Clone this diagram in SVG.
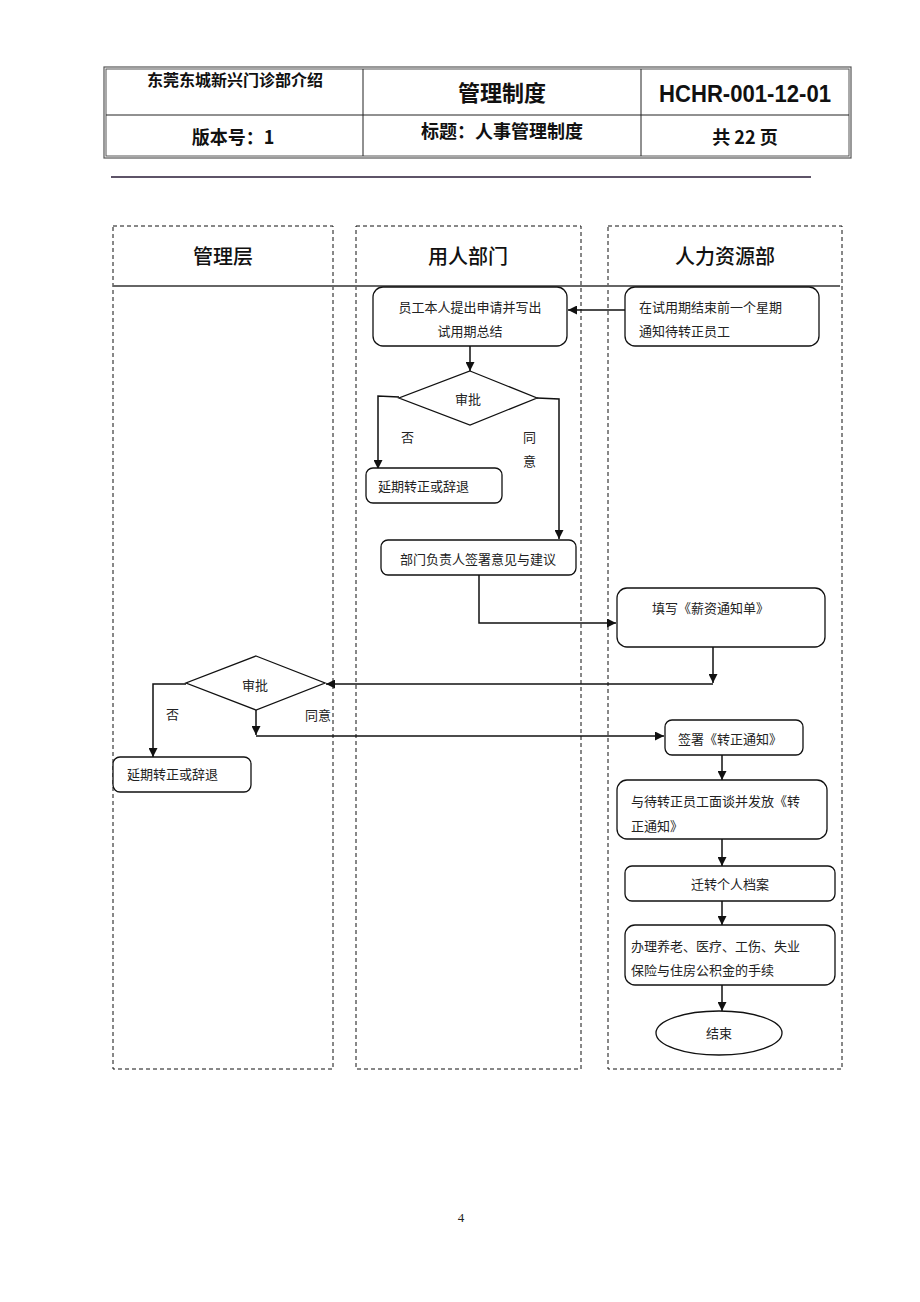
<svg xmlns="http://www.w3.org/2000/svg" width="920" height="1302" viewBox="0 0 920 1302">
<style>
.hd{font-family:"Noto Sans CJK SC","Liberation Sans",sans-serif;font-weight:bold;fill:#111}
.ln{font-family:"Noto Sans CJK SC","Liberation Sans",sans-serif;font-size:20px;font-weight:500;fill:#111;text-anchor:middle}
.t{font-family:"Noto Sans CJK SC","Liberation Serif",serif;font-size:13px;fill:#222}
.c{text-anchor:middle}
.box{fill:#fff;stroke:#111;stroke-width:1.3}
.lane{fill:none;stroke:#111;stroke-width:1;stroke-dasharray:4,3}
.con{fill:none;stroke:#111;stroke-width:1.5}
</style>
<defs>
<marker id="ah" viewBox="0 0 10 10" refX="10" refY="5" markerWidth="9" markerHeight="9" markerUnits="userSpaceOnUse" orient="auto">
<path d="M0,0 L10,5 L0,10 z" fill="#111"/>
</marker>
</defs>
<rect width="920" height="1302" fill="#fff"/>
<g id="header">
<rect x="104" y="67" width="747" height="91" fill="none" stroke="#555" stroke-width="1.2"/>
<rect x="106" y="69" width="743" height="87" fill="none" stroke="#555" stroke-width="1"/>
<line x1="106" y1="115" x2="849" y2="115" stroke="#222" stroke-width="1"/>
<line x1="363" y1="69" x2="363" y2="156" stroke="#222" stroke-width="1"/>
<line x1="641" y1="69" x2="641" y2="156" stroke="#222" stroke-width="1"/>
<text class="hd" x="235" y="86" font-size="16" text-anchor="middle">东莞东城新兴门诊部介绍</text>
<text class="hd" x="502" y="101" font-size="22" text-anchor="middle">管理制度</text>
<text x="745" y="102" font-family="Liberation Sans,sans-serif" font-weight="bold" font-size="24" text-anchor="middle" textLength="172" lengthAdjust="spacingAndGlyphs" fill="#111">HCHR-001-12-01</text>
<text class="hd" x="233" y="144" font-size="18" text-anchor="middle">版本号：1</text>
<text class="hd" x="502" y="138" font-size="18" text-anchor="middle">标题：人事管理制度</text>
<text class="hd" x="745" y="144" font-size="18" text-anchor="middle" xml:space="preserve">共 22 页</text>
<line x1="111" y1="177" x2="811" y2="177" stroke="#5e5468" stroke-width="2"/>
</g>
<g id="lanes">
<rect class="lane" x="113" y="226" width="220" height="843"/>
<rect class="lane" x="356" y="226" width="225" height="843"/>
<rect class="lane" x="608" y="226" width="234" height="843"/>
<line x1="113" y1="286" x2="840" y2="286" stroke="#666" stroke-width="1.8"/>
<text class="ln" x="223" y="264">管理层</text>
<text class="ln" x="468" y="264">用人部门</text>
<text class="ln" x="725" y="264">人力资源部</text>
</g>
<g id="connectors">
<line class="con" x1="625" y1="310" x2="568" y2="310" marker-end="url(#ah)"/>
<line class="con" x1="470" y1="346" x2="470" y2="371" marker-end="url(#ah)"/>
<polyline class="con" points="399,397 378,396 378,469" marker-end="url(#ah)"/>
<polyline class="con" points="537,398 559,399 559,539" marker-end="url(#ah)"/>
<polyline class="con" points="479,575 479,623 616,623" marker-end="url(#ah)"/>
<line class="con" x1="713" y1="647" x2="713" y2="683" marker-end="url(#ah)"/>
<line class="con" x1="713" y1="684" x2="326" y2="684" marker-end="url(#ah)"/>
<polyline class="con" points="186,684 153,684 153,757" marker-end="url(#ah)"/>
<line class="con" x1="256" y1="710" x2="256" y2="735" marker-end="url(#ah)"/>
<line class="con" x1="256" y1="736" x2="664" y2="736" marker-end="url(#ah)"/>
<line class="con" x1="722" y1="755" x2="722" y2="780" marker-end="url(#ah)"/>
<line class="con" x1="722" y1="839" x2="722" y2="866" marker-end="url(#ah)"/>
<line class="con" x1="722" y1="901" x2="722" y2="925" marker-end="url(#ah)"/>
<line class="con" x1="722" y1="985" x2="722" y2="1011" marker-end="url(#ah)"/>
</g>
<g id="n1"><rect class="box" x="373" y="287" width="194" height="59" rx="10"/>
<text class="t c" x="470" y="312">员工本人提出申请并写出</text><text class="t c" x="470" y="336">试用期总结</text></g>
<g id="n2"><rect class="box" x="625" y="287" width="194" height="59" rx="10"/>
<text class="t" x="639" y="312">在试用期结束前一个星期</text><text class="t" x="639" y="336">通知待转正员工</text></g>
<g id="d1"><polygon class="box" points="470,371 537,398 470,425 399,398"/>
<text class="t c" x="468" y="404">审批</text></g>
<g id="l1"><text class="t" x="401" y="442">否</text><text class="t" x="523" y="442">同</text><text class="t" x="523" y="466">意</text></g>
<g id="n3"><rect class="box" x="366" y="468" width="136" height="35" rx="7"/>
<text class="t" x="378" y="491">延期转正或辞退</text></g>
<g id="n4"><rect class="box" x="381" y="540" width="195" height="35" rx="7"/>
<text class="t c" x="478" y="564">部门负责人签署意见与建议</text></g>
<g id="n5"><rect class="box" x="617" y="588" width="208" height="59" rx="10"/>
<text class="t" x="652" y="613">填写《薪资通知单》</text></g>
<g id="d2"><polygon class="box" points="256,656 325,683 256,710 186,683"/>
<text class="t c" x="255" y="690">审批</text></g>
<g id="l2"><text class="t" x="166" y="719">否</text><text class="t" x="305" y="720">同意</text></g>
<g id="n6"><rect class="box" x="113" y="757" width="138" height="35" rx="7"/>
<text class="t" x="127" y="779">延期转正或辞退</text></g>
<g id="n7"><rect class="box" x="665" y="720" width="138" height="35" rx="7"/>
<text class="t" x="678" y="744">签署《转正通知》</text></g>
<g id="n8"><rect class="box" x="617" y="780" width="210" height="59" rx="10"/>
<text class="t" x="631" y="806">与待转正员工面谈并发放《转</text><text class="t" x="631" y="831">正通知》</text></g>
<g id="n9"><rect class="box" x="625" y="866" width="210" height="35" rx="7"/>
<text class="t c" x="730" y="889">迁转个人档案</text></g>
<g id="n10"><rect class="box" x="625" y="925" width="210" height="60" rx="10"/>
<text class="t" x="631" y="951">办理养老、医疗、工伤、失业</text><text class="t" x="631" y="975">保险与住房公积金的手续</text></g>
<g id="n11"><ellipse class="box" cx="719" cy="1033" rx="63" ry="22"/>
<text class="t c" x="719" y="1038">结束</text></g>
<text x="461" y="1222" font-family="Liberation Serif,serif" font-size="13" text-anchor="middle" fill="#222">4</text>
</svg>
